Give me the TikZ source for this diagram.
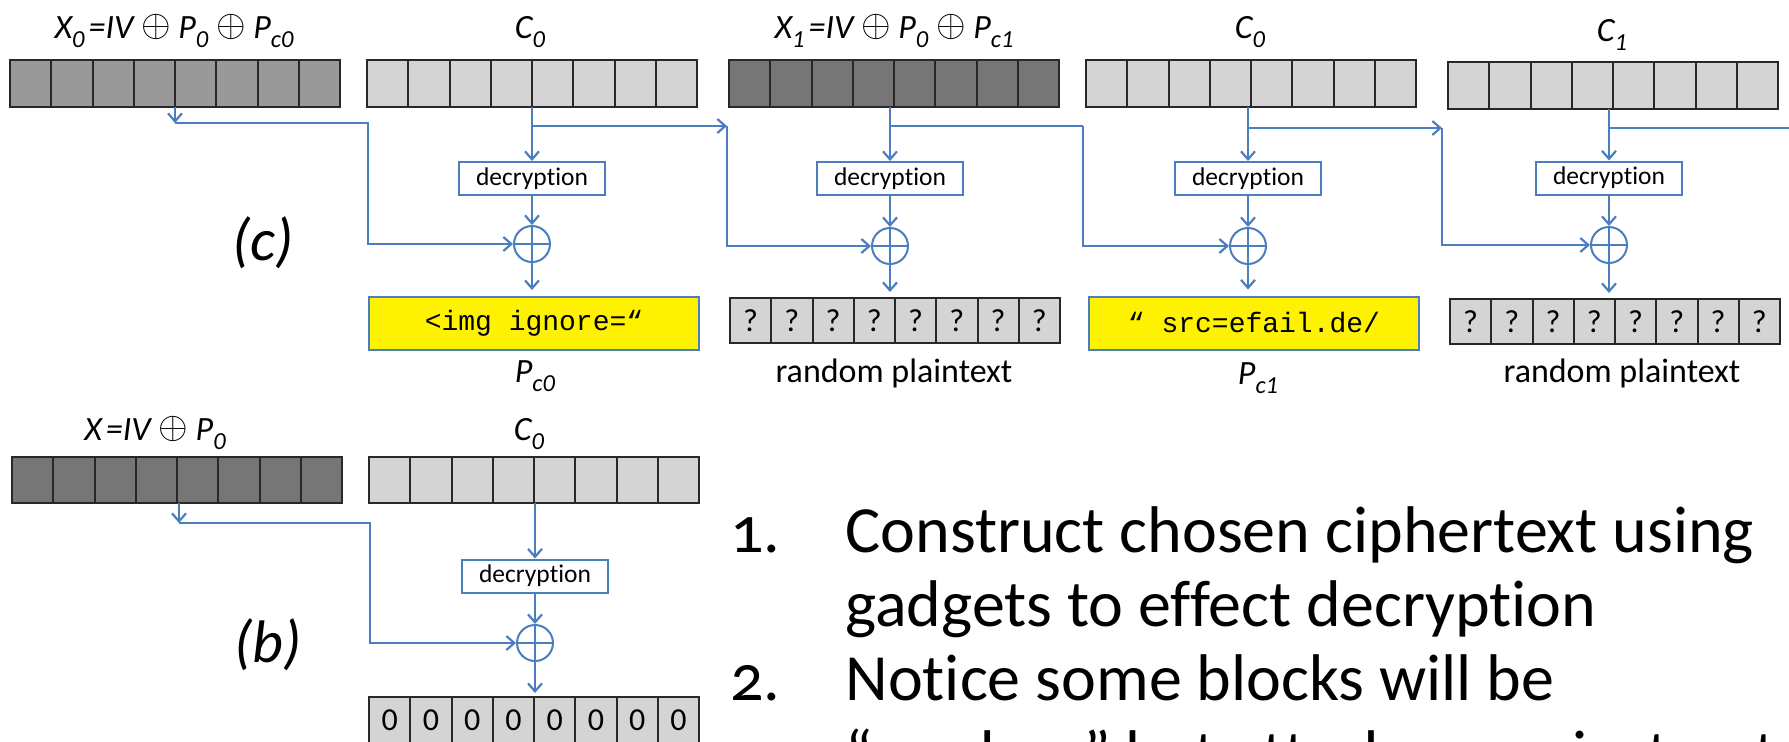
\documentclass[tikz,border=0pt]{standalone}
\usepackage{fontspec}
\usepackage{graphicx}
\setmainfont{Carlito}[Ligatures={NoCommon}]
\newfontfamily\monofont{Liberation Mono}
\usetikzlibrary{arrows.meta,calc}

\definecolor{lineblue}{RGB}{74,126,190}
\definecolor{cellgray}{RGB}{212,212,212}
\definecolor{midgray}{RGB}{153,153,153}
\definecolor{darkgrayb}{RGB}{118,118,118}
\definecolor{celledge}{RGB}{40,40,40}

\newcommand{\lo}[1]{\raisebox{-0.28em}{\scalebox{0.72}{#1}}}
\newcommand{\xo}{\raisebox{0.05em}{\scalebox{1.1}{$\oplus$}}}
\newcommand{\blockrow}[5]{%
  \foreach \i in {0,...,7}
    \node[cellbox,#4] (#1-\i) at ({#2+\i*41.25},#3) {#5};
}

\tikzset{
  cellbox/.style={draw=celledge, line width=1pt, minimum width=20.625pt,
    minimum height=23.5pt, inner sep=0pt, outer sep=0pt, anchor=north west,
    font=\fontsize{16}{16}\selectfont},
  decbox/.style={draw=lineblue, line width=1pt, fill=white, minimum width=73pt,
    minimum height=16.5pt, inner sep=0pt, font=\fontsize{12.75}{13}\selectfont},
  xor/.style={circle, draw=lineblue, line width=1pt, minimum size=18pt, inner sep=0pt,
    path picture={\draw[lineblue, line width=1pt]
      (path picture bounding box.north) -- (path picture bounding box.south)
      (path picture bounding box.west) -- (path picture bounding box.east);}},
  conn/.style={draw=lineblue, line width=1.1pt, -{Straight Barb[length=4pt,width=7pt]}},
  plainconn/.style={draw=lineblue, line width=1.1pt},
  ybox/.style={draw=lineblue, line width=1pt, fill=yellow, minimum width=165pt,
    minimum height=26.5pt, inner sep=0pt, font=\monofont\fontsize{14}{14}\selectfont},
  lab/.style={font=\itshape\fontsize{17}{17}\selectfont, anchor=base, inner sep=0pt},
  plainlab/.style={font=\fontsize{17}{17}\selectfont, anchor=base, inner sep=0pt},
  biglab/.style={font=\itshape\fontsize{30}{30}\selectfont, inner sep=0pt},
  bul/.style={font=\fontsize{33}{37}\selectfont, anchor=base west, inner sep=0pt},
}

\begin{document}
\begin{tikzpicture}[x=0.5pt,y=-0.5pt]
\useasboundingbox (0,0) rectangle (1789,741);
\clip (0,0) rectangle (1789,741);

% ---------- (c) row ----------
\blockrow{xa}{10}{60}{fill=midgray}{}
\blockrow{ca}{367}{60}{fill=cellgray}{}
\blockrow{xb}{729}{60}{fill=darkgrayb}{}
\blockrow{cb}{1086}{60}{fill=cellgray}{}
\blockrow{cc}{1448}{62}{fill=cellgray}{}

\node[lab] (lxa) at (174,38) {X\lo{0}\hspace{0.12em}=IV \xo{} P\lo{0} \xo{} P\lo{c0}};
\node[lab] (lca) at (530,38) {C\lo{0}};
\node[lab] (lxb) at (894,38) {X\lo{1}\hspace{0.12em}=IV \xo{} P\lo{0} \xo{} P\lo{c1}};
\node[lab] (lcb) at (1250,38) {C\lo{0}};
\node[lab] (lcc) at (1612,41) {C\lo{1}};

\node[decbox] (da) at (532,178.5) {decryption};
\node[decbox] (db) at (890,178.5) {decryption};
\node[decbox] (dc) at (1248,178.5) {decryption};
\node[decbox] (dd) at (1609,178) {decryption};

\node[xor] (ea) at (532,244) {};
\node[xor] (eb) at (890,246) {};
\node[xor] (ec) at (1248,246) {};
\node[xor] (ed) at (1609,245) {};

\node[ybox] (ya) at (534,323.5) {<img ignore=“};
\node[ybox] (yb) at (1254,323) {“ src=efail.de/};

\blockrow{ra}{730}{298}{fill=cellgray, minimum height=22.5pt}{?}
\blockrow{rb}{1450}{299}{fill=cellgray, minimum height=22.5pt}{?}

\node[lab] (pa) at (535,382) {P\lo{c0}};
\node[lab] (pb) at (1258,384) {P\lo{c1}};
\node[plainlab] (rla) at (894,382) {random plaintext};
\node[plainlab] (rlb) at (1622,382) {random plaintext};

\node[biglab] (lc) at (263,243) {(c)};

% connectors (c)
\coordinate (ka) at (175,123);
\coordinate (ka2) at (368,123);
\draw[conn] (ka |- xa-4.south) -- (ka);
\draw[conn] (ka) -- (ka2) |- (ea.west);

\draw[conn] (da |- ca-4.south) -- (da);
\coordinate (kb) at (727,126);
\draw[conn] (da |- kb) -- (kb);
\draw[conn] (kb) |- (eb.west);
\draw[conn] (da) -- (ea);
\draw[conn, shorten >=3pt] (ea) -- (ea |- ya.north);

\draw[conn] (db |- xb-4.south) -- (db);
\coordinate (kc) at (1083,126);
\draw[plainconn] (db |- kc) -- (kc);
\draw[conn] (kc) |- (ec.west);
\draw[conn] (db) -- (eb);
\draw[conn, shorten >=3pt] (eb) -- (eb |- ra-4.north);

\draw[conn] (dc |- cb-4.south) -- (dc);
\coordinate (kd) at (1442,128);
\draw[conn] (dc |- kd) -- (kd);
\draw[conn] (kd) |- (ed.west);
\draw[conn] (dc) -- (ec);
\draw[conn, shorten >=3pt] (ec) -- (ec |- yb.north);

\draw[conn] (dd |- cc-4.south) -- (dd);
\coordinate (ke) at (1789,128);
\draw[plainconn] (dd |- ke) -- (ke);
\draw[conn] (dd) -- (ed);
\draw[conn, shorten >=3pt] (ed) -- (ed |- rb-4.north);

% ---------- (b) row ----------
\blockrow{xc}{12}{457}{fill=darkgrayb, minimum height=23pt}{}
\blockrow{cd}{369}{457}{fill=cellgray, minimum height=23pt}{}
\blockrow{zb}{369}{697}{fill=cellgray, minimum height=23pt}{0}

\node[lab] (lxc) at (155,440) {X\hspace{0.12em}=IV \xo{} P\lo{0}};
\node[lab] (lcd) at (529,440) {C\lo{0}};

\node[decbox] (de) at (535,576) {decryption};
\node[xor] (ef) at (535,643) {};
\node[biglab] (lb) at (268,645) {(b)};

\coordinate (kf) at (179,523);
\coordinate (kf2) at (370,523);
\draw[conn] (kf |- xc-4.south) -- (kf);
\draw[conn] (kf) -- (kf2) |- (ef.west);
\draw[conn] (de |- cd-4.south) -- (de);
\draw[conn] (de) -- (ef);
\draw[conn, shorten >=2pt] (ef) -- (ef |- zb-4.north);

% ---------- text ----------
\node[bul] (n1) at (730,552) {\addfontfeature{Numbers=OldStyle}1.};
\node[bul] (t1) at (845,552) {Construct chosen ciphertext using};
\node[bul] (t2) at (845,626) {gadgets to effect decryption};
\node[bul] (n2) at (730,700) {\addfontfeature{Numbers=OldStyle}2.};
\node[bul] (t3) at (845,700) {Notice some blocks will be};
\node[bul] (t4) at (845,776) {“random” but attacker can instruct};
\end{tikzpicture}
\end{document}
